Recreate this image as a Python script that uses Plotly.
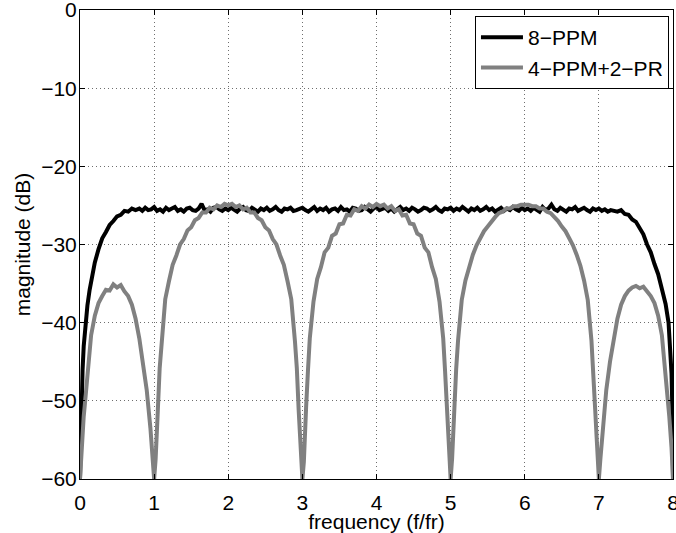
import plotly.graph_objects as go

# ---------------- data ----------------
# 8-PPM spectrum: rising edge, noisy plateau, falling edge
black_rise_freq = [0.00, 0.01, 0.02, 0.035, 0.05, 0.08, 0.10, 0.13, 0.16, 0.20, 0.25, 0.30,
                   0.35, 0.40, 0.45, 0.50, 0.55, 0.60, 0.65, 0.70, 0.75]
black_rise_db = [-60.0, -55.0, -50.5, -46.0, -43.0, -39.5, -37.8, -35.8, -34.0, -32.3, -30.6, -29.2,
                 -28.4, -27.5, -27.0, -26.4, -26.2, -25.7, -25.8, -25.4, -25.6]

black_flat_freq = [
    0.80, 0.84, 0.88, 0.92, 0.96,
    1.00, 1.04, 1.08, 1.12, 1.16, 1.20, 1.24, 1.28, 1.32, 1.36, 1.40, 1.44, 1.48, 1.52, 1.56,
    1.60, 1.64, 1.68, 1.72, 1.76, 1.80, 1.84, 1.88, 1.92, 1.96,
    2.00, 2.04, 2.08, 2.12, 2.16, 2.20, 2.24, 2.28, 2.32, 2.36, 2.40, 2.44, 2.48, 2.52, 2.56,
    2.60, 2.64, 2.68, 2.72, 2.76, 2.80, 2.84, 2.88, 2.92, 2.96,
    3.00, 3.04, 3.08, 3.12, 3.16, 3.20, 3.24, 3.28, 3.32, 3.36, 3.40, 3.44, 3.48, 3.52, 3.56,
    3.60, 3.64, 3.68, 3.72, 3.76, 3.80, 3.84, 3.88, 3.92, 3.96,
    4.00, 4.04, 4.08, 4.12, 4.16, 4.20, 4.24, 4.28, 4.32, 4.36, 4.40, 4.44, 4.48, 4.52, 4.56,
    4.60, 4.64, 4.68, 4.72, 4.76, 4.80, 4.84, 4.88, 4.92, 4.96,
    5.00, 5.04, 5.08, 5.12, 5.16, 5.20, 5.24, 5.28, 5.32, 5.36, 5.40, 5.44, 5.48, 5.52, 5.56,
    5.60, 5.64, 5.68, 5.72, 5.76, 5.80, 5.84, 5.88, 5.92, 5.96,
    6.00, 6.04, 6.08, 6.12, 6.16, 6.20, 6.24, 6.28, 6.32, 6.36, 6.40, 6.44, 6.48, 6.52, 6.56,
    6.60, 6.64, 6.68, 6.72, 6.76, 6.80, 6.84, 6.88, 6.92, 6.96,
    7.00, 7.04, 7.08, 7.12, 7.16, 7.20,
]
black_flat_db = [
    -25.4, -25.7, -25.3, -25.6, -25.5,
    -25.2, -25.7, -25.5, -25.8, -25.3, -25.6, -25.4, -25.2, -25.7, -25.5, -25.8, -25.4, -25.3, -25.6, -25.7,
    -25.4, -24.8, -25.6, -25.5, -25.8, -25.3, -25.2, -25.5, -25.7, -25.4,
    -25.6, -25.3, -25.5, -25.8, -25.4, -25.2, -25.6, -25.7, -25.3, -25.5, -25.8, -25.4, -25.6, -25.3, -25.7,
    -25.5, -25.2, -25.6, -25.8, -25.4, -25.5, -25.3, -25.7, -25.6, -25.4,
    -25.3, -25.6, -25.8, -25.5, -25.2, -25.7, -25.4, -25.6, -25.3, -25.8, -25.5, -25.4, -25.7, -25.2, -25.6,
    -25.5, -25.8, -25.3, -25.4, -25.7, -25.6, -25.2, -25.5, -25.8, -25.4,
    -25.2, -25.6, -25.5, -25.3, -25.7, -25.4, -25.8, -25.5, -25.2, -25.6, -25.4, -25.7, -25.3, -25.5, -25.8,
    -25.6, -25.3, -25.4, -25.7, -25.5, -25.2, -25.6, -25.8, -25.4, -25.5,
    -25.3, -25.7, -25.4, -25.6, -25.2, -25.5, -25.8, -25.4, -25.6, -25.3, -25.7, -25.5, -25.2, -25.6, -25.4,
    -25.8, -25.5, -25.3, -25.7, -25.4, -25.6, -25.2, -25.5, -25.7, -25.3,
    -25.6, -25.4, -25.7, -25.3, -25.5, -25.8, -25.2, -25.6, -25.4, -24.9, -25.5, -25.7, -25.3, -25.6, -25.8,
    -25.4, -25.5, -25.2, -25.7, -25.5, -25.3, -25.6, -25.8, -25.4, -25.6,
    -25.4, -25.7, -25.5, -25.8, -25.6, -25.7,
]

black_fall_freq = [7.25, 7.30, 7.35, 7.40, 7.45, 7.50, 7.55, 7.60, 7.65, 7.70, 7.75, 7.80, 7.85,
                   7.90, 7.94, 7.96, 7.98, 7.99, 8.00]
black_fall_db = [-25.8, -25.6, -26.1, -26.2, -26.8, -27.1, -28.0, -28.7, -30.0, -31.0, -32.5, -33.8, -35.7,
                 -37.6, -40.0, -42.5, -46.5, -50.5, -60.0]

# 4-PPM+2-PR spectrum (side lobe, three main lobes, side lobe)
gray_freq = [
    0.00, 0.02, 0.05, 0.07, 0.10, 0.15, 0.20, 0.25, 0.30, 0.35, 0.40, 0.45, 0.50, 0.55,
    0.60, 0.65, 0.70, 0.75, 0.80, 0.85, 0.90, 0.95, 0.98, 1.00,
    1.02, 1.03, 1.05, 1.075, 1.10, 1.15, 1.20, 1.25, 1.30, 1.35, 1.40, 1.45, 1.50, 1.55,
    1.60, 1.65, 1.70, 1.75, 1.80, 1.85, 1.90, 1.95, 2.00, 2.05, 2.10, 2.15, 2.20, 2.25,
    2.30, 2.35, 2.40, 2.45, 2.50, 2.55, 2.60, 2.65, 2.70, 2.75, 2.80, 2.85, 2.90, 2.925,
    2.95, 2.97, 2.98, 3.00,
    3.02, 3.03, 3.05, 3.075, 3.10, 3.15, 3.20, 3.25, 3.30, 3.35, 3.40, 3.45, 3.50, 3.55,
    3.60, 3.65, 3.70, 3.75, 3.80, 3.85, 3.90, 3.95, 4.00, 4.05, 4.10, 4.15, 4.20, 4.25,
    4.30, 4.35, 4.40, 4.45, 4.50, 4.55, 4.60, 4.65, 4.70, 4.75, 4.80, 4.85, 4.90, 4.925,
    4.95, 4.97, 4.98, 5.00,
    5.02, 5.03, 5.05, 5.075, 5.10, 5.15, 5.20, 5.25, 5.30, 5.35, 5.40, 5.45, 5.50, 5.55,
    5.60, 5.65, 5.70, 5.75, 5.80, 5.85, 5.90, 5.95, 6.00, 6.05, 6.10, 6.15, 6.20, 6.25,
    6.30, 6.35, 6.40, 6.45, 6.50, 6.55, 6.60, 6.65, 6.70, 6.75, 6.80, 6.85, 6.90, 6.925,
    6.95, 6.97, 6.98, 7.00,
    7.02, 7.05, 7.10, 7.15, 7.20, 7.25, 7.30, 7.35, 7.40, 7.45, 7.50, 7.55, 7.60, 7.65,
    7.70, 7.75, 7.80, 7.85, 7.90, 7.93, 7.95, 7.98, 8.00,
]
gray_db = [
    -60.0, -56.0, -52.0, -50.0, -46.3, -41.6, -39.1, -37.5, -36.6, -35.8, -35.9, -35.1, -35.5, -35.2,
    -36.0, -36.6, -37.7, -39.5, -42.0, -45.0, -48.6, -53.5, -57.5, -60.0,
    -57.5, -54.6, -51.2, -45.8, -42.4, -37.0, -34.7, -32.6, -31.4, -30.0, -29.3, -28.2, -27.8, -26.9,
    -26.6, -25.9, -25.9, -25.3, -25.5, -25.0, -25.2, -24.8, -25.0, -24.8, -25.2, -25.0, -25.5, -25.3,
    -25.9, -25.9, -26.6, -26.9, -27.8, -28.2, -29.3, -30.0, -31.4, -32.6, -34.7, -37.0, -42.4, -45.8,
    -51.2, -54.6, -57.5, -60.0,
    -57.8, -54.9, -50.9, -46.2, -42.0, -37.3, -34.4, -32.9, -31.0, -30.4, -28.9, -28.6, -27.4, -27.3,
    -26.2, -26.3, -25.5, -25.7, -25.1, -25.4, -24.9, -25.2, -24.8, -25.1, -24.9, -25.4, -25.1, -25.7,
    -25.5, -26.3, -26.2, -27.3, -27.4, -28.6, -28.9, -30.4, -31.0, -32.9, -34.4, -37.3, -42.0, -46.2,
    -50.9, -54.9, -57.8, -60.0,
    -57.4, -54.7, -51.1, -45.9, -42.3, -37.1, -34.6, -32.7, -31.3, -30.1, -29.2, -28.3, -27.7, -27.0,
    -26.5, -26.0, -25.8, -25.4, -25.4, -25.1, -25.1, -24.9, -24.9, -24.9, -25.1, -25.1, -25.4, -25.4,
    -25.8, -26.0, -26.5, -27.0, -27.7, -28.3, -29.2, -30.1, -31.3, -32.7, -34.6, -37.1, -42.3, -45.9,
    -51.1, -54.7, -57.4, -60.0,
    -57.5, -53.5, -48.6, -45.0, -42.0, -39.5, -37.7, -36.6, -35.9, -35.5, -35.3, -35.6, -35.4, -36.0,
    -36.6, -37.5, -39.1, -41.6, -46.3, -50.0, -52.0, -56.0, -60.0,
]

series_names = ["8\u2212PPM", "4\u2212PPM+2\u2212PR"]
x_title = "frequency (f/fr)"
y_title = "magnitude (dB)"

FONT = "Liberation Sans, Arial, Helvetica, sans-serif"

black_freq = black_rise_freq + black_flat_freq + black_fall_freq
black_db = black_rise_db + black_flat_db + black_fall_db

fig = go.Figure()
fig.add_trace(go.Scatter(x=black_freq, y=black_db, mode="lines", name=series_names[0],
                         line=dict(color="black", width=4)))
fig.add_trace(go.Scatter(x=gray_freq, y=gray_db, mode="lines", name=series_names[1],
                         line=dict(color="rgb(128,128,128)", width=4)))

axis_common = dict(
    showline=True, linecolor="black", linewidth=1, mirror="allticks",
    ticks="inside", ticklen=5, tickcolor="black", tickwidth=1,
    showgrid=True, gridcolor="rgb(110,110,110)", griddash="1px,3px", gridwidth=1,
    zeroline=False, tickfont=dict(family=FONT, size=21, color="black"),
    ticklabeloverflow="allow", automargin=False,
)

fig.update_layout(
    width=676, height=533,
    margin=dict(l=80, r=3, t=10, b=54, autoexpand=False),
    paper_bgcolor="white", plot_bgcolor="white",
    font=dict(family=FONT, size=21, color="black"),
    showlegend=True,
    legend=dict(
        x=0.9932, y=0.9872, xanchor="right", yanchor="top",
        bgcolor="white", bordercolor="black", borderwidth=1,
        font=dict(family=FONT, size=21, color="black"),
        tracegroupgap=0, itemwidth=42,
    ),
    xaxis=dict(range=[0, 8], tick0=0, dtick=1,
               title=dict(text=x_title, font=dict(family=FONT, size=21), standoff=0),
               ticklabelstandoff=5, **axis_common),
    yaxis=dict(range=[-60, 0], tick0=0, dtick=10,
               title=dict(text=y_title, font=dict(family=FONT, size=21), standoff=4),
               ticklabelstandoff=-2, **axis_common),
)

fig.write_html("out.html")
